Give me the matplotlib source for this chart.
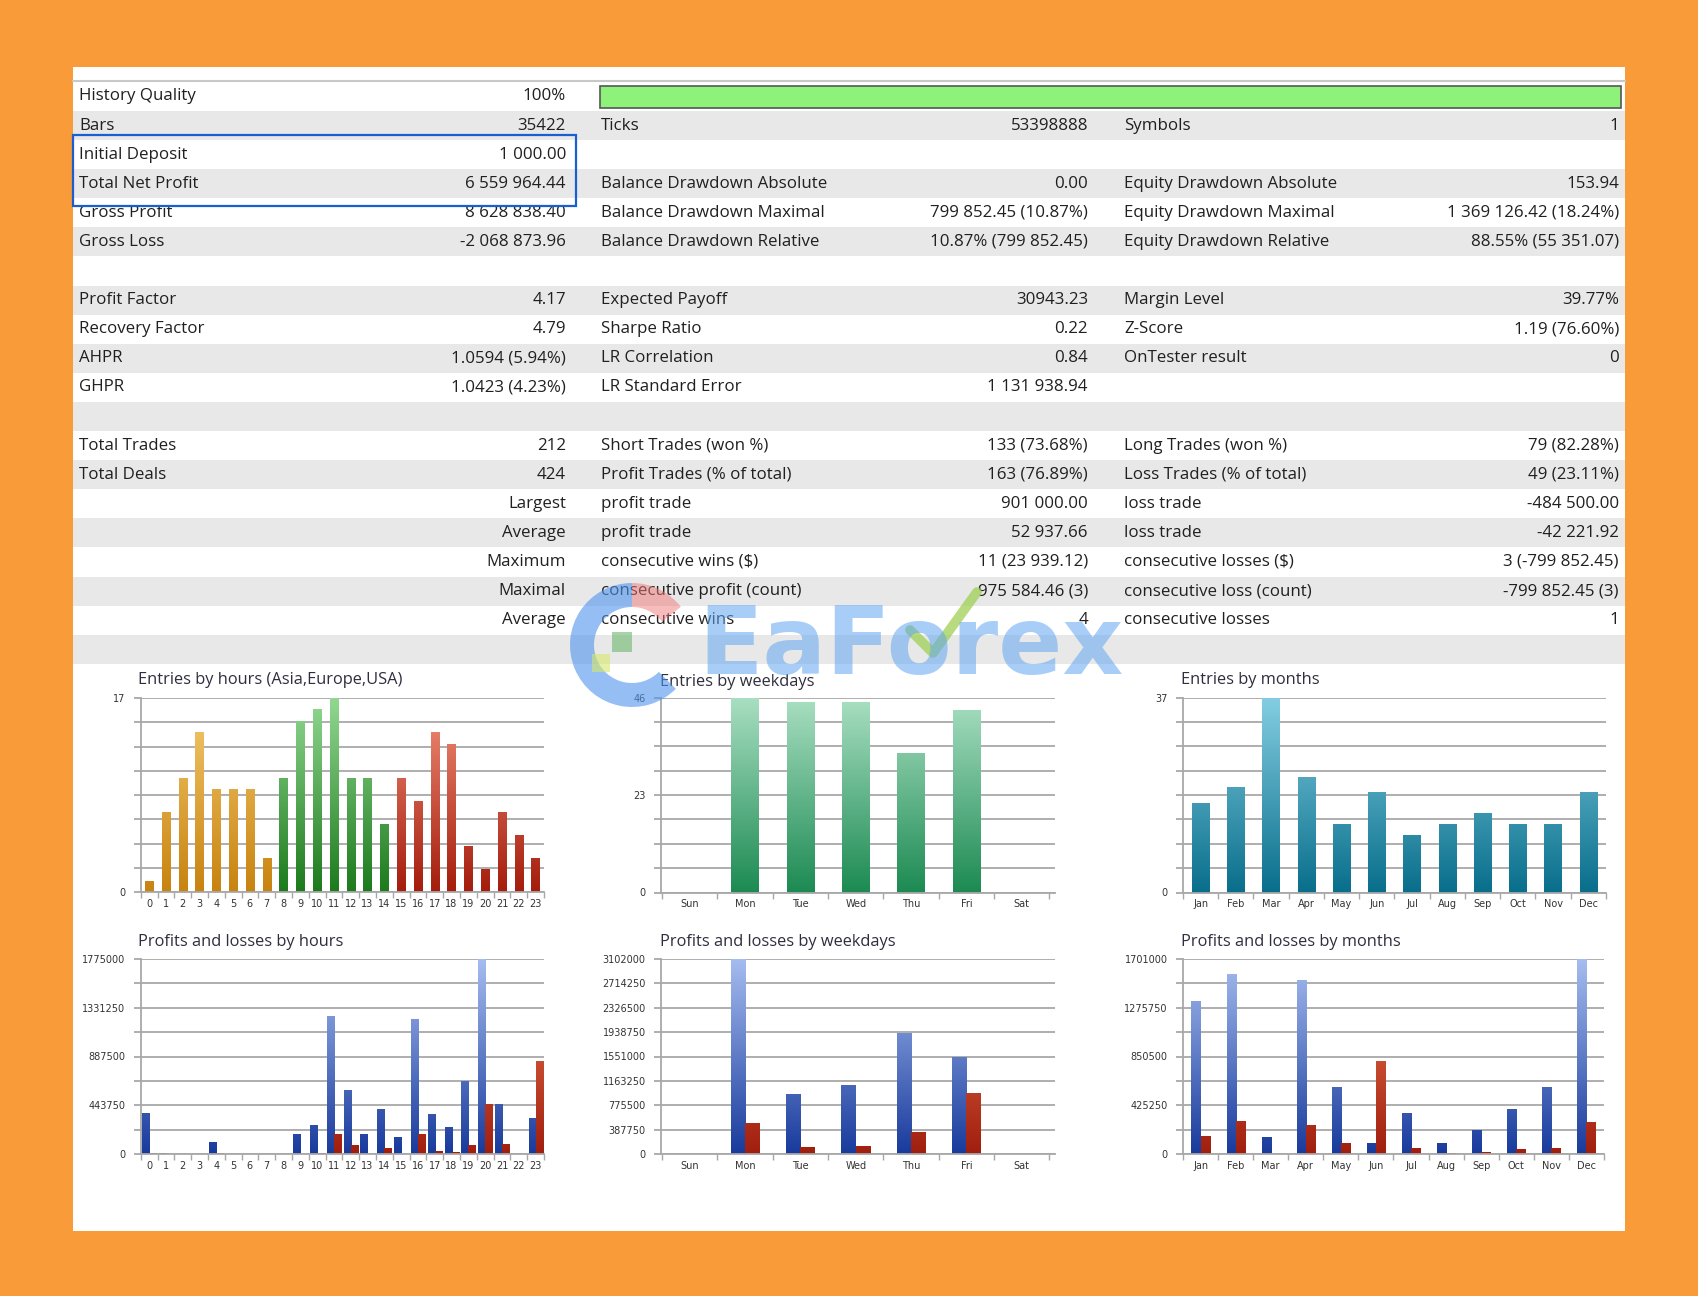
import numpy as np
import matplotlib
matplotlib.use("Agg")
import matplotlib.pyplot as plt
from matplotlib.patches import Rectangle, Wedge
from matplotlib.colors import LinearSegmentedColormap

# ---------------- data ----------------
hours = [str(h) for h in range(24)]
hour_entries = [1, 7, 10, 14, 9, 9, 9, 3, 10, 15, 16, 17, 10, 10, 6, 10, 8, 14, 13, 4, 2, 7, 5, 3]
hour_session = ["Asia"] * 8 + ["Europe"] * 7 + ["USA"] * 9

weekdays = ["Sun", "Mon", "Tue", "Wed", "Thu", "Fri", "Sat"]
weekday_entries = [0, 46, 45, 45, 33, 43, 0]

months = ["Jan", "Feb", "Mar", "Apr", "May", "Jun", "Jul", "Aug", "Sep", "Oct", "Nov", "Dec"]
month_entries = [17, 20, 37, 22, 13, 19, 11, 13, 15, 13, 13, 19]

hour_profits = [377000, 7000, 0, 0, 112000, 0, 0, 0, 0, 182000, 261000, 1252000, 580000, 182000,
                410000, 152000, 1228000, 362000, 249000, 669000, 1775000, 456000, 0, 331000]
hour_losses = [12000, 3000, 0, 3000, 6000, 0, 0, 0, 0, 0, 5000, 182000, 79000, 3000,
               52000, 2000, 182000, 30000, 21000, 82000, 456000, 88000, 0, 848000]

weekday_profits = [0, 3102000, 951000, 1099000, 1923000, 1551000, 0]
weekday_losses = [0, 488000, 106000, 127000, 356000, 977000, 0]

month_profits = [1334000, 1573000, 151000, 1517000, 585000, 99000, 355000, 99000, 210000, 390000, 585000, 1701000]
month_losses = [157000, 291000, 2000, 253000, 93000, 813000, 50000, 9000, 17000, 41000, 55000, 283000]

col1_labels = ["History Quality", "Bars", "Initial Deposit", "Total Net Profit", "Gross Profit", "Gross Loss", "",
               "Profit Factor", "Recovery Factor", "AHPR", "GHPR", "", "Total Trades", "Total Deals",
               "", "", "", "", "", ""]
col1_values = ["100%", "35422", "1 000.00", "6 559 964.44", "8 628 838.40", "-2 068 873.96", "",
               "4.17", "4.79", "1.0594 (5.94%)", "1.0423 (4.23%)", "", "212", "424",
               "Largest", "Average", "Maximum", "Maximal", "Average", ""]
col2_labels = ["", "Ticks", "", "Balance Drawdown Absolute", "Balance Drawdown Maximal", "Balance Drawdown Relative", "",
               "Expected Payoff", "Sharpe Ratio", "LR Correlation", "LR Standard Error", "",
               "Short Trades (won %)", "Profit Trades (% of total)", "profit trade", "profit trade",
               "consecutive wins ($)", "consecutive profit (count)", "consecutive wins", ""]
col2_values = ["", "53398888", "", "0.00", "799 852.45 (10.87%)", "10.87% (799 852.45)", "",
               "30943.23", "0.22", "0.84", "1 131 938.94", "",
               "133 (73.68%)", "163 (76.89%)", "901 000.00", "52 937.66",
               "11 (23 939.12)", "975 584.46 (3)", "4", ""]
col3_labels = ["", "Symbols", "", "Equity Drawdown Absolute", "Equity Drawdown Maximal", "Equity Drawdown Relative", "",
               "Margin Level", "Z-Score", "OnTester result", "", "",
               "Long Trades (won %)", "Loss Trades (% of total)", "loss trade", "loss trade",
               "consecutive losses ($)", "consecutive loss (count)", "consecutive losses", ""]
col3_values = ["", "1", "", "153.94", "1 369 126.42 (18.24%)", "88.55% (55 351.07)", "",
               "39.77%", "1.19 (76.60%)", "0", "", "",
               "79 (82.28%)", "49 (23.11%)", "-484 500.00", "-42 221.92",
               "3 (-799 852.45)", "-799 852.45 (3)", "1", ""]
history_quality = 100

# ---------------- figure ----------------
W, H = 1699, 1296
FONT = ["Open Sans", "DejaVu Sans"]
plt.rcParams["font.family"] = FONT

fig = plt.figure(figsize=(W / 100, H / 100), dpi=100)
fig.patch.set_facecolor("#F89B38")

bg = fig.add_axes([0, 0, 1, 1])
bg.set_xlim(0, W)
bg.set_ylim(H, 0)
bg.axis("off")

PL, PT, PR, PB = 73, 67, 1625, 1231
bg.add_patch(Rectangle((PL, PT), PR - PL, PB - PT, fc="white", ec="none", zorder=0))
bg.plot([PL, PR], [81, 81], color="#C8C8C8", lw=1.5, zorder=1)

ROW0, RH = 96.4, 29.1
nrows = len(col1_labels)
for i in range(nrows):
    yc = ROW0 + i * RH
    if i % 2 == 1:
        bg.add_patch(Rectangle((PL, yc - RH / 2), PR - PL, RH, fc="#E8E8E8", ec="none", zorder=1))

cols = [(79, 566, col1_labels, col1_values),
        (601, 1088, col2_labels, col2_values),
        (1124, 1619, col3_labels, col3_values)]
TXT = dict(fontsize=12.2, color="#202020", va="center", parse_math=False, zorder=3)
for xl, xr, labs, vals in cols:
    for i, (lab, val) in enumerate(zip(labs, vals)):
        yc = ROW0 + i * RH
        if lab:
            bg.text(xl, yc, lab, ha="left", **TXT)
        if val:
            bg.text(xr, yc, val, ha="right", **TXT)

# history quality bar
bar_l, bar_r = 600, 1621
bg.add_patch(Rectangle((bar_l, 86), (bar_r - bar_l) * history_quality / 100, 22,
                       fc="#8EF27A", ec="#555555", lw=1.2, zorder=2))
# highlight box
bg.add_patch(Rectangle((73, 135), 503, 71, fill=False, ec="#1A5FD0", lw=1.6, zorder=4))


# ---------------- charts ----------------
def add_ax(l, t, r, b):
    return fig.add_axes([l / W, 1 - b / H, (r - l) / W, (b - t) / H])


def grad_fill(ax, bars, cbot, ctop, ymax):
    cmap = LinearSegmentedColormap.from_list("g", [cbot, ctop])
    grad = np.linspace(0, 1, 256).reshape(-1, 1)
    for b in bars:
        if b.get_height() <= 0:
            b.set_visible(False)
            continue
        b.set_facecolor("none")
        b.set_edgecolor("none")
        im = ax.imshow(grad, extent=[b.get_x(), b.get_x() + b.get_width(), 0, ymax],
                       origin="lower", aspect="auto", cmap=cmap, zorder=2,
                       interpolation="bilinear")
        im.set_clip_path(b)


GRID = "#A8A8A8"


def style(ax, ymax, every, xlim, cats):
    ax.set_xlim(*xlim)
    ax.set_ylim(0, ymax)
    ticks = np.linspace(0, ymax, 9)
    ax.set_yticks(ticks)
    ax.set_yticklabels([f"{int(round(t))}" if i % every == 0 else "" for i, t in enumerate(ticks)])
    ax.grid(axis="y", color=GRID, lw=1.3)
    ax.set_axisbelow(True)
    for s in ["top", "right"]:
        ax.spines[s].set_visible(False)
    for s in ["left", "bottom"]:
        ax.spines[s].set_color(GRID)
        ax.spines[s].set_linewidth(1.3)
    ax.tick_params(axis="y", length=5, width=1.3, color=GRID, labelsize=7, labelcolor="#333333", pad=6)
    for lab in ax.get_yticklabels():
        lab.set_family("DejaVu Sans")
    n = len(cats)
    ax.set_xticks(range(n))
    ax.set_xticklabels(cats, family="DejaVu Sans")
    ax.set_xticks(np.arange(n + 1) - 0.5, minor=True)
    ax.tick_params(axis="x", which="major", length=0, labelsize=7, labelcolor="#333333", pad=5)
    ax.tick_params(axis="x", which="minor", length=4, width=1, color=GRID)
    ax.set_facecolor("none")


def title(x, y, s):
    bg.text(x, y, s, ha="left", va="center", fontsize=11.8, color="#2E2E3E", zorder=3)


sess_cols = {"Asia": ("#C8830F", "#F5CA70"), "Europe": ("#1C7A1C", "#92D892"), "USA": ("#A41C0C", "#F2917A")}
BLUE = ("#183A9C", "#A6BDF0")
RED = ("#A01E0E", "#F27E55")

# Entries by hours
ax1 = add_ax(140.7, 698, 544, 892)
x = np.arange(24)
for sess in ["Asia", "Europe", "USA"]:
    idx = [i for i in range(24) if hour_session[i] == sess]
    bars = ax1.bar(x[idx], [hour_entries[i] for i in idx], width=0.5, zorder=2)
    grad_fill(ax1, bars, *sess_cols[sess], 17)
style(ax1, 17, 8, (-0.4, 23.5), hours)
title(138, 680, "Entries by hours (Asia,Europe,USA)")

# Entries by weekdays
ax2 = add_ax(661, 697.5, 1055, 892.5)
bars = ax2.bar(range(7), weekday_entries, width=0.5, zorder=2)
grad_fill(ax2, bars, "#1C8A52", "#A9DFC2", 46)
style(ax2, 46, 4, (-0.52, 6.6), weekdays)
title(660, 682, "Entries by weekdays")

# Entries by months
ax3 = add_ax(1183, 697.5, 1606, 892.5)
bars = ax3.bar(range(12), month_entries, width=0.5, zorder=2)
grad_fill(ax3, bars, "#086E8B", "#84CEE2", 37)
style(ax3, 37, 8, (-0.5, 11.5), months)
title(1181, 680, "Entries by months")

# Profits and losses by hours
ax4 = add_ax(140.7, 959, 544, 1154)
b1 = ax4.bar(x - 0.21, hour_profits, width=0.42, zorder=2)
b2 = ax4.bar(x + 0.21, hour_losses, width=0.42, zorder=2)
grad_fill(ax4, b1, *BLUE, 1775000)
grad_fill(ax4, b2, *RED, 1775000)
style(ax4, 1775000, 2, (-0.4, 23.5), hours)
title(138, 942, "Profits and losses by hours")

# Profits and losses by weekdays
ax5 = add_ax(661, 959, 1055, 1154)
xw = np.arange(7)
b1 = ax5.bar(xw - 0.13, weekday_profits, width=0.26, zorder=2)
b2 = ax5.bar(xw + 0.13, weekday_losses, width=0.26, zorder=2)
grad_fill(ax5, b1, *BLUE, 3102000)
grad_fill(ax5, b2, *RED, 3102000)
style(ax5, 3102000, 1, (-0.52, 6.6), weekdays)
title(660, 942, "Profits and losses by weekdays")

# Profits and losses by months
ax6 = add_ax(1183, 959, 1604, 1154)
xm = np.arange(12)
b1 = ax6.bar(xm - 0.13, month_profits, width=0.26, zorder=2)
b2 = ax6.bar(xm + 0.13, month_losses, width=0.26, zorder=2)
grad_fill(ax6, b1, *BLUE, 1701000)
grad_fill(ax6, b2, *RED, 1701000)
style(ax6, 1701000, 2, (-0.5, 11.5), months)
title(1181, 942, "Profits and losses by months")

# ---------------- watermark ----------------
ov = fig.add_axes([0, 0, 1, 1])
ov.set_xlim(0, W)
ov.set_ylim(H, 0)
ov.axis("off")
ov.patch.set_alpha(0)
ov.add_patch(Wedge((632, 645), 62, 45, 270, width=24, fc="#4F95EE", ec="none", alpha=0.6))
ov.add_patch(Wedge((632, 645), 62, 270, 322, width=24, fc="#F07878", ec="none", alpha=0.5))
ov.add_patch(Rectangle((612, 632), 20, 20, fc="#6DB86D", ec="none", alpha=0.6))
ov.add_patch(Rectangle((592, 654), 18, 18, fc="#D8E86A", ec="none", alpha=0.6))
ov.text(698, 648, "EaForex", fontsize=68, fontweight="bold", color="#62A6F2", alpha=0.55,
        ha="left", va="center", family=["DejaVu Sans"])
ov.plot([910, 933, 977], [630, 653, 592], color="#9ACD4A", lw=7, alpha=0.7, solid_capstyle="round")

fig.savefig("out.png", dpi=100, facecolor=fig.get_facecolor())
